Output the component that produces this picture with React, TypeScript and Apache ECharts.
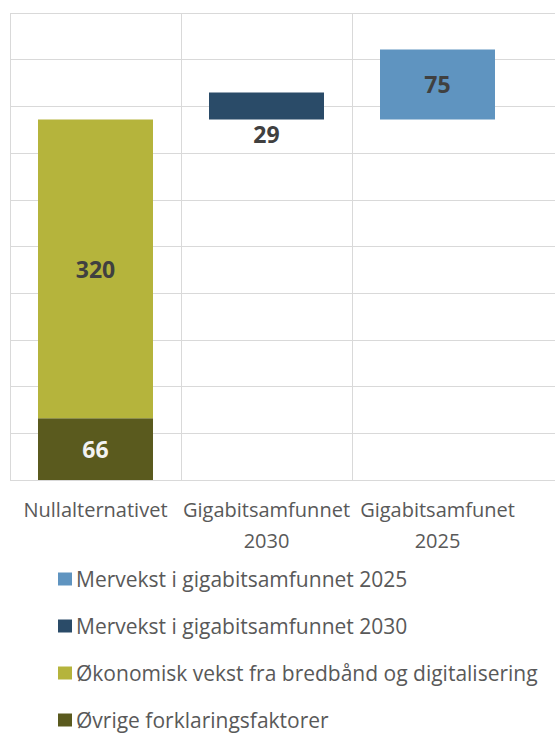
import React, { useEffect, useRef } from "react";
import * as echarts from "echarts";

const categories = ["Nullalternativet", "Gigabitsamfunnet\n2030", "Gigabitsamfunet\n2025"];
const ovrige = [66, "-", "-"];
const okonomisk = [320, "-", "-"];
const mervekst2030 = ["-", 29, "-"];
const mervekst2025 = ["-", "-", 75];
const baseTop = (ovrige[0] as number) + (okonomisk[0] as number);
const base = [0, baseTop, baseTop];
const legendOrder = [
  "Mervekst i gigabitsamfunnet 2025",
  "Mervekst i gigabitsamfunnet 2030",
  "Økonomisk vekst fra bredbånd og digitalisering",
  "Øvrige forklaringsfaktorer",
];
const yMin = 0;
const yMax = 500;
const yInterval = 50;

const FONT = "'Open Sans', sans-serif";
const GRID_COLOR = "#D9D9D9";

export default function App() {
  const ref = useRef<HTMLDivElement>(null);
  useEffect(() => {
    if (!ref.current) return;
    const chart = echarts.init(ref.current, undefined, { renderer: "svg" });
    const labelBase = {
      show: true,
      fontFamily: FONT,
      fontWeight: "bold" as const,
      fontSize: 23,
      color: "#404040",
    };
    chart.setOption({
      animation: false,
      backgroundColor: "#ffffff",
      grid: [
        { left: 10, right: 32, top: 13, bottom: 253 },
        { left: 10, right: 0, top: 13, bottom: 253 },
      ],
      legend: {
        orient: "vertical",
        left: 58,
        top: 567,
        height: 166,
        padding: 0,
        data: legendOrder,
        icon: "rect",
        itemWidth: 14,
        itemHeight: 13,
        itemGap: 23,
        textStyle: {
          fontFamily: FONT,
          fontSize: 21,
          color: "#595959",
          lineHeight: 24,
          padding: [0, 0, 0, -1],
        },
      },
      xAxis: [
        {
          type: "category",
          gridIndex: 0,
          data: categories,
          axisLine: { show: false },
          axisTick: { show: false },
          splitLine: {
            show: true,
            lineStyle: {
              color: [GRID_COLOR, GRID_COLOR, GRID_COLOR, "rgba(0,0,0,0)"],
              width: 1,
            },
          },
          axisLabel: {
            interval: 0,
            margin: 14,
            fontFamily: FONT,
            fontSize: 20,
            lineHeight: 31,
            color: "#595959",
          },
        },
        {
          type: "value",
          gridIndex: 1,
          show: false,
          min: 0,
          max: 1,
        },
      ],
      yAxis: [
        {
          type: "value",
          gridIndex: 0,
          min: yMin,
          max: yMax,
          interval: yInterval,
          show: false,
        },
        {
          type: "value",
          gridIndex: 1,
          min: yMin,
          max: yMax,
          interval: yInterval,
          axisLine: { show: false },
          axisTick: { show: false },
          axisLabel: { show: false },
          splitLine: { show: true, lineStyle: { color: GRID_COLOR, width: 1 } },
        },
      ],
      series: [
        {
          name: "base",
          type: "bar",
          stack: "total",
          data: base,
          barWidth: 115,
          itemStyle: { color: "rgba(0,0,0,0)" },
          silent: true,
        },
        {
          name: "Øvrige forklaringsfaktorer",
          type: "bar",
          stack: "total",
          data: ovrige,
          barWidth: 115,
          itemStyle: { color: "#5A5A1E" },
          label: { ...labelBase, position: "inside", color: "#F2F2F2" },
        },
        {
          name: "Økonomisk vekst fra bredbånd og digitalisering",
          type: "bar",
          stack: "total",
          data: okonomisk,
          barWidth: 115,
          itemStyle: { color: "#B5B43C" },
          label: { ...labelBase, position: "inside" },
        },
        {
          name: "Mervekst i gigabitsamfunnet 2030",
          type: "bar",
          stack: "total",
          data: mervekst2030,
          barWidth: 115,
          itemStyle: { color: "#2A4B68" },
          label: { ...labelBase, position: "bottom", distance: 3 },
        },
        {
          name: "Mervekst i gigabitsamfunnet 2025",
          type: "bar",
          stack: "total",
          data: mervekst2025,
          barWidth: 115,
          itemStyle: { color: "#5F94C0" },
          label: { ...labelBase, position: "inside" },
        },
      ],
    });
    return () => chart.dispose();
  }, []);
  return (
    <div
      ref={ref}
      style={{ position: "fixed", left: 0, top: 0, width: 555, height: 733 }}
    />
  );
}
